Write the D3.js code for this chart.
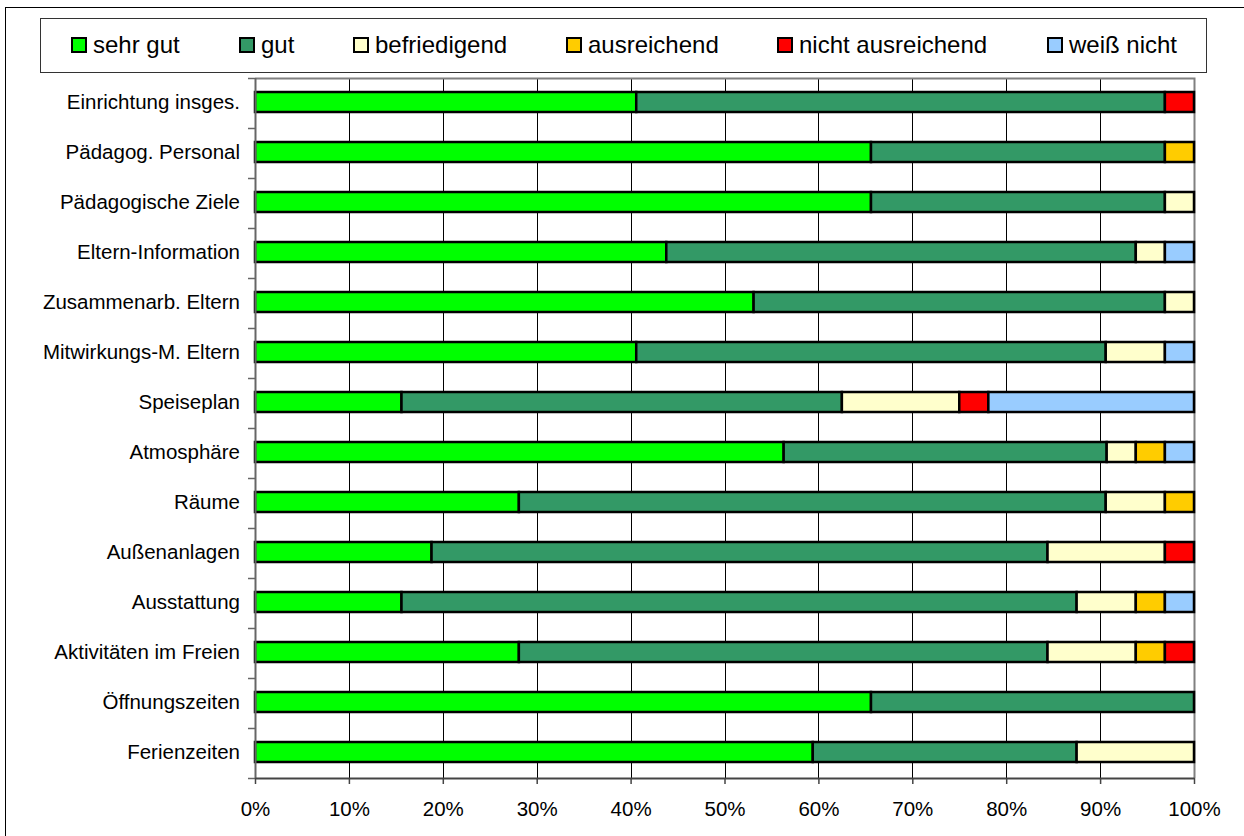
<!DOCTYPE html>
<html>
<head>
<meta charset="utf-8">
<script src="https://cdn.jsdelivr.net/npm/d3@7"></script>
<style>
  body { margin: 0; background: #fff; }
  svg { display: block; font-family: "Liberation Sans", Arial, sans-serif; }
</style>
</head>
<body>
<script>
// Kategorien (von oben nach unten)
var categories = ["Einrichtung insges.", "Pädagog. Personal", "Pädagogische Ziele", "Eltern-Information",
  "Zusammenarb. Eltern", "Mitwirkungs-M. Eltern", "Speiseplan", "Atmosphäre", "Räume",
  "Außenanlagen", "Ausstattung", "Aktivitäten im Freien", "Öffnungszeiten", "Ferienzeiten"];

// Anteile in %
var sehrGut      = [40.6, 65.6, 65.6, 43.8, 53.1, 40.6, 15.6, 56.3, 28.1, 18.8, 15.6, 28.1, 65.6, 59.4];
var gut          = [56.3, 31.3, 31.3, 50.0, 43.8, 50.0, 46.9, 34.4, 62.5, 65.6, 71.9, 56.3, 34.4, 28.1];
var befriedigend = [0, 0, 3.1, 3.1, 3.1, 6.3, 12.5, 3.1, 6.3, 12.5, 6.3, 9.4, 0, 12.5];
var ausreichend  = [0, 3.1, 0, 0, 0, 0, 0, 3.1, 3.1, 0, 3.1, 3.1, 0, 0];
var nichtAusr    = [3.1, 0, 0, 0, 0, 0, 3.1, 0, 0, 3.1, 0, 3.1, 0, 0];
var weissNicht   = [0, 0, 0, 3.1, 0, 3.1, 21.9, 3.1, 0, 0, 3.1, 0, 0, 0];

var seriesNames = ["sehr gut", "gut", "befriedigend", "ausreichend", "nicht ausreichend", "weiß nicht"];
var seriesValues = [sehrGut, gut, befriedigend, ausreichend, nichtAusr, weissNicht];
var colors = ["#00ff00", "#339966", "#ffffcc", "#ffcc00", "#ff0000", "#99ccff"];
var tickLabels = ["0%", "10%", "20%", "30%", "40%", "50%", "60%", "70%", "80%", "90%", "100%"];

// Tabelle für d3.stack
var rows = categories.map(function (c, i) {
  var r = {cat: c};
  seriesNames.forEach(function (s, j) { r[s] = seriesValues[j][i]; });
  return r;
});

var W = 1244, H = 836;
var plot = {left: 255, right: 1194, top: 78, bottom: 778};

var svg = d3.select("body").append("svg").attr("width", W).attr("height", H);

// äußerer Rahmen
svg.append("rect").attr("x", 5.5).attr("y", 7.5).attr("width", 1400).attr("height", 1000)
  .attr("fill", "#fff").attr("stroke", "#000").attr("stroke-width", 1);

var x = d3.scaleLinear().domain([0, 1]).range([plot.left, plot.right]);
var y = d3.scaleBand().domain(categories).range([plot.top, plot.bottom]);

// Gitterlinien
svg.append("g").selectAll("line").data(d3.range(1, 10).map(function (d) { return d / 10; }))
  .enter().append("line")
  .attr("x1", function (d) { return Math.round(x(d)) + 0.5; })
  .attr("x2", function (d) { return Math.round(x(d)) + 0.5; })
  .attr("y1", plot.top).attr("y2", plot.bottom)
  .attr("stroke", "#000").attr("stroke-width", 1);

// Rahmen der Zeichenfläche (oben, rechts)
svg.append("path")
  .attr("d", "M" + plot.left + "," + (plot.top + 0.5) + "H" + (plot.right + 0.5) + "V" + plot.bottom)
  .attr("fill", "none").attr("stroke", "#808080").attr("stroke-width", 2);

// Balken
var stack = d3.stack().keys(seriesNames).offset(d3.stackOffsetExpand);
var stacked = stack(rows);
var barH = y.bandwidth() * 0.4;

svg.append("g").selectAll("g").data(stacked).enter().append("g")
  .attr("fill", function (d, i) { return colors[i]; })
  .selectAll("rect").data(function (d) { return d.filter(function (p) { return p[1] - p[0] > 0; }); })
  .enter().append("rect")
  .attr("x", function (d) { return x(d[0]); })
  .attr("width", function (d) { return x(d[1]) - x(d[0]); })
  .attr("y", function (d) { return y(d.data.cat) + (y.bandwidth() - barH) / 2 - 1; })
  .attr("height", barH)
  .attr("stroke", "#000").attr("stroke-width", 2.5);

// y-Achse
var yAxis = svg.append("g").attr("transform", "translate(" + plot.left + ",0)");
yAxis.append("line").attr("x1", 0.5).attr("x2", 0.5).attr("y1", plot.top).attr("y2", plot.bottom + 1)
  .attr("stroke", "#666").attr("stroke-width", 2);
yAxis.selectAll("line.t").data(d3.range(categories.length + 1)).enter().append("line")
  .attr("class", "t")
  .attr("x1", -7).attr("x2", 0)
  .attr("y1", function (i) { return plot.top + i * y.step() + 0.5; })
  .attr("y2", function (i) { return plot.top + i * y.step() + 0.5; })
  .attr("stroke", "#666").attr("stroke-width", 1.5);
yAxis.selectAll("text").data(categories).enter().append("text")
  .attr("x", -15)
  .attr("y", function (d) { return y(d) + y.bandwidth() / 2 - 1; })
  .attr("dy", "0.36em")
  .attr("text-anchor", "end")
  .attr("font-size", "20.5px")
  .attr("fill", "#000")
  .text(function (d) { return d; });

// x-Achse
var xAxis = d3.axisBottom(x).tickValues(d3.range(0, 11).map(function (d) { return d / 10; }))
  .tickFormat(function (d, i) { return tickLabels[i]; })
  .tickSize(6).tickSizeOuter(0).tickPadding(17);
var gx = svg.append("g").attr("transform", "translate(0," + plot.bottom + ")").call(xAxis);
gx.select(".domain").attr("stroke", "#444").attr("stroke-width", 2);
gx.selectAll(".tick line").attr("stroke", "#444").attr("stroke-width", 1.5);
gx.selectAll(".tick text").attr("font-size", "20.5px").attr("fill", "#000")
  .attr("font-family", "Liberation Sans, Arial, sans-serif");

// Legende
svg.append("rect").attr("x", 40.5).attr("y", 18.5).attr("width", 1166).attr("height", 54)
  .attr("fill", "#fff").attr("stroke", "#333").attr("stroke-width", 1);
var legendX = [71, 239, 353, 566, 777, 1047];
var leg = svg.append("g").selectAll("g").data(seriesNames).enter().append("g")
  .attr("transform", function (d, i) { return "translate(" + legendX[i] + ",37)"; });
leg.append("rect").attr("x", 1).attr("y", 1).attr("width", 14).attr("height", 14)
  .attr("fill", function (d, i) { return colors[i]; })
  .attr("stroke", "#000").attr("stroke-width", 2);
leg.append("text").attr("x", 22).attr("y", 16)
  .attr("font-size", "24px").attr("fill", "#000")
  .text(function (d) { return d; });
</script>
</body>
</html>
